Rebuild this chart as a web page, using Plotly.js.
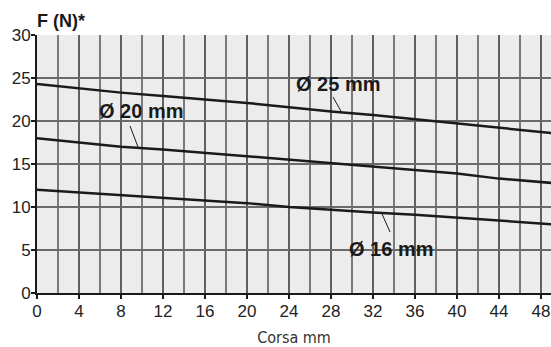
<!DOCTYPE html>
<html><head><meta charset="utf-8">
<script src="https://cdn.plot.ly/plotly-3.0.1.min.js"></script>
<style>html,body{margin:0;padding:0;background:#fff}#c{width:551px;height:347px}</style>
</head><body><div id="c"></div>
<script>
const stroke = [0, 4, 8, 12, 16, 20, 24, 28, 32, 36, 40, 44, 48, 49];
const f25 = [24.3, 23.8, 23.3, 22.9, 22.5, 22.1, 21.6, 21.1, 20.7, 20.2, 19.7, 19.2, 18.7, 18.6];
const f20 = [18.0, 17.5, 17.0, 16.7, 16.3, 15.9, 15.5, 15.1, 14.7, 14.3, 13.9, 13.3, 12.9, 12.8];
const f16 = [12.0, 11.7, 11.4, 11.1, 10.75, 10.45, 10.0, 9.65, 9.35, 9.1, 8.75, 8.4, 8.1, 8.0];
const labels = ["Ø 25 mm", "Ø 20 mm", "Ø 16 mm"];
const xTicks = [0, 4, 8, 12, 16, 20, 24, 28, 32, 36, 40, 44, 48];
const yTicks = [0, 5, 10, 15, 20, 25, 30];

const lineStyle = {color: '#1a1a1a', width: 2.5};
const traces = [f25, f20, f16].map((ys, i) => ({
  x: stroke, y: ys, mode: 'lines', line: lineStyle, name: labels[i], hoverinfo: 'skip'
}));

const annFont = {family: 'Liberation Sans, Arial, sans-serif', size: 20, color: '#1a1a1a'};
const layout = {
  width: 551, height: 347,
  margin: {l: 37, r: 0, t: 35, b: 54},
  paper_bgcolor: '#ffffff', plot_bgcolor: '#ececec',
  showlegend: false,
  font: {family: 'Liberation Sans, Arial, sans-serif', size: 17, color: '#222'},
  xaxis: {
    range: [0, 48.95], tickvals: xTicks, ticktext: xTicks.map(String),
    showgrid: true, gridcolor: '#606060', gridwidth: 1.5,
    minor: {dtick: 2, tick0: 0, showgrid: true, gridcolor: '#7a7a7a', gridwidth: 1.5},
    showline: true, linecolor: '#1a1a1a', linewidth: 2,
    ticks: 'outside', ticklen: 4, tickcolor: '#1a1a1a', tickwidth: 1.5,
    zeroline: false, fixedrange: true, ticklabelstandoff: -2,
    tickfont: {size: 17, color: '#222'},
    title: {text: 'Corsa mm', standoff: 13, font: {family: 'DejaVu Sans Condensed, DejaVu Sans, sans-serif', size: 16, color: '#333'}}
  },
  yaxis: {
    range: [0, 30], tickvals: yTicks,
    showgrid: true, gridcolor: '#6a6a6a', gridwidth: 1.5,
    showline: true, linecolor: '#1a1a1a', linewidth: 2,
    ticks: 'outside', ticklen: 4, tickcolor: '#1a1a1a', tickwidth: 1.5,
    zeroline: false, fixedrange: true, ticklabelstandoff: -3,
    tickfont: {size: 17, color: '#222'}
  },
  annotations: [
    {text: '<b>F (N)*</b>', xref: 'paper', yref: 'paper', x: 0, y: 1, xanchor: 'left', yanchor: 'bottom', yshift: 2, xshift: -2, showarrow: false,
     font: {family: 'Liberation Sans, Arial, sans-serif', size: 18, color: '#1a1a1a'}},
    {text: '<b>' + labels[0] + '</b>', x: 28.67, y: 24.3, xref: 'x', yref: 'y', showarrow: false, font: annFont},
    {text: '<b>' + labels[1] + '</b>', x: 9.9, y: 21.2, xref: 'x', yref: 'y', showarrow: false, font: annFont},
    {text: '<b>' + labels[2] + '</b>', x: 33.7, y: 5.1, xref: 'x', yref: 'y', showarrow: false, font: annFont}
  ],
  shapes: [
    {type: 'line', xref: 'x', yref: 'y', x0: 28.19, y0: 22.79, x1: 29.05, y1: 20.93, line: {color: '#1a1a1a', width: 1}},
    {type: 'line', xref: 'x', yref: 'y', x0: 8.86, y0: 19.42, x1: 9.62, y1: 16.98, line: {color: '#1a1a1a', width: 1}},
    {type: 'line', xref: 'x', yref: 'y', x0: 32.86, y0: 9.19, x1: 33.62, y1: 7.09, line: {color: '#1a1a1a', width: 1}}
  ]
};
Plotly.newPlot('c', traces, layout, {staticPlot: true, displayModeBar: false});
</script></body></html>
